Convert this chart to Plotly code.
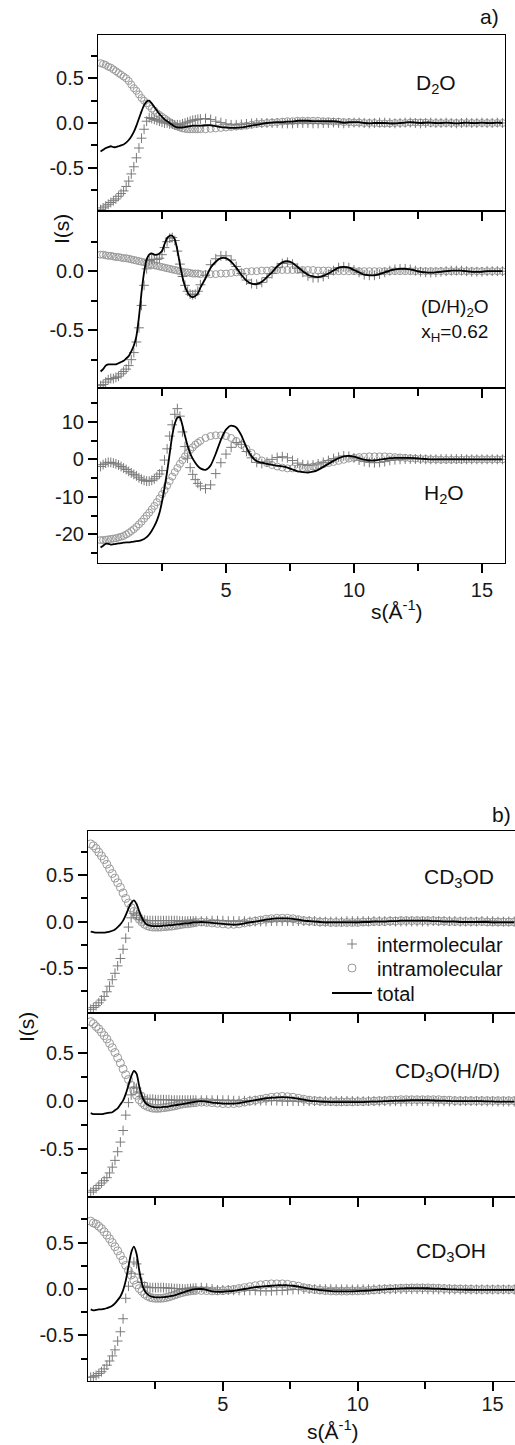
import plotly.graph_objects as go

# ---------------- data ----------------
s_values = [
    0.1, 0.2, 0.3, 0.4, 0.5, 0.6, 0.7, 0.8, 0.9, 1.0,
    1.1, 1.2, 1.3, 1.4, 1.5, 1.6, 1.7, 1.8, 1.9, 2.0,
    2.1, 2.2, 2.3, 2.4, 2.5, 2.6, 2.7, 2.8, 2.9, 3.0,
    3.1, 3.2, 3.3, 3.4, 3.5, 3.6, 3.7, 3.8, 3.9, 4.0,
    4.2, 4.4, 4.6, 4.8, 5.0, 5.2, 5.4, 5.6, 5.8, 6.0,
    6.2, 6.4, 6.6, 6.8, 7.0, 7.2, 7.4, 7.6, 7.8, 8.0,
    8.2, 8.4, 8.6, 8.8, 9.0, 9.2, 9.4, 9.6, 9.8, 10.0,
    10.2, 10.4, 10.6, 10.8, 11.0, 11.2, 11.4, 11.6, 11.8, 12.0,
    12.2, 12.4, 12.6, 12.8, 13.0, 13.2, 13.4, 13.6, 13.8, 14.0,
    14.2, 14.4, 14.6, 14.8, 15.0, 15.2, 15.4, 15.6, 15.8]

# ---- a) D2O ----
intra_d2o = [
    0.67, 0.66, 0.65, 0.63, 0.62, 0.60, 0.58, 0.56, 0.54, 0.52,
    0.50, 0.47, 0.43, 0.39, 0.36, 0.32, 0.28, 0.25, 0.22, 0.19,
    0.16, 0.14, 0.11, 0.09, 0.07, 0.05, 0.03, 0.01, -0.01, -0.03,
    -0.04, -0.05, -0.06, -0.065, -0.07, -0.07, -0.07, -0.07, -0.07, -0.07,
    -0.07, -0.065, -0.06, -0.055, -0.05, -0.045, -0.04, -0.035, -0.03, -0.02,
    -0.01, -0.005, 0.0, 0.005, 0.01, 0.015, 0.02, 0.02, 0.025, 0.025,
    0.025, 0.025, 0.025, 0.02, 0.02, 0.015, 0.015, 0.01, 0.01, 0.005,
    0.005, 0.0, 0.0, 0.0, -0.005, -0.005, -0.005, 0.0, 0.0, 0.0,
    0.005, 0.005, 0.005, 0.005, 0.0, 0.0, 0.0, 0.0, 0.0, 0.0,
    0.0, 0.0, 0.0, 0.0, 0.0, 0.0, 0.0, 0.0, 0.0]
inter_d2o = [
    -0.97, -0.95, -0.93, -0.91, -0.89, -0.87, -0.85, -0.82, -0.79, -0.76,
    -0.71, -0.65, -0.57, -0.49, -0.39, -0.28, -0.17, -0.07, 0.02, 0.06,
    0.05, 0.04, 0.03, 0.02, 0.01, 0.0, 0.0, -0.01, -0.01, -0.02,
    -0.02, -0.02, -0.01, 0.0, 0.01, 0.02, 0.03, 0.035, 0.04, 0.045,
    0.05, 0.04, 0.02, 0.005, -0.01, -0.02, -0.02, -0.015, -0.01, -0.005,
    0.0, 0.0, 0.0, 0.0, 0.0, -0.005, -0.005, -0.005, 0.0, 0.0,
    0.0, -0.005, -0.005, 0.0, 0.0, 0.005, 0.0, -0.005, 0.0, 0.005,
    0.005, 0.0, -0.005, 0.0, 0.005, 0.005, 0.0, -0.005, 0.0, 0.005,
    0.005, 0.0, -0.005, 0.0, 0.005, 0.0, 0.0, 0.005, 0.0, -0.005,
    0.0, 0.005, 0.0, 0.0, 0.005, 0.0, 0.0, 0.005, 0.0]
total_d2o = [
    -0.32, -0.30, -0.28, -0.27, -0.26, -0.27, -0.27, -0.26, -0.25, -0.24,
    -0.22, -0.19, -0.15, -0.10, -0.03, 0.05, 0.13, 0.20, 0.24, 0.25,
    0.22, 0.18, 0.14, 0.10, 0.07, 0.04, 0.02, 0.0, -0.02, -0.04,
    -0.05, -0.05, -0.05, -0.045, -0.04, -0.035, -0.03, -0.03, -0.03, -0.03,
    -0.025, -0.025, -0.035, -0.045, -0.05, -0.055, -0.055, -0.05, -0.04, -0.03,
    -0.02, -0.01, 0.0, 0.005, 0.01, 0.01, 0.015, 0.015, 0.025, 0.025,
    0.025, 0.02, 0.02, 0.02, 0.02, 0.02, 0.015, 0.005, 0.01, 0.01,
    0.01, 0.0, -0.005, 0.0, 0.0, 0.0, -0.005, -0.005, 0.0, 0.005,
    0.01, 0.005, 0.0, 0.005, 0.005, 0.0, 0.0, 0.005, 0.0, -0.005,
    0.0, 0.005, 0.0, 0.0, 0.005, 0.0, 0.0, 0.005, 0.0]

# ---- a) (D/H)2O ----
intra_dh2o = [
    0.14, 0.14, 0.135, 0.13, 0.13, 0.125, 0.12, 0.12, 0.115, 0.11,
    0.11, 0.105, 0.10, 0.095, 0.09, 0.085, 0.08, 0.075, 0.07, 0.06,
    0.055, 0.05, 0.045, 0.04, 0.035, 0.03, 0.025, 0.02, 0.015, 0.01,
    0.005, 0.0, -0.005, -0.01, -0.01, -0.015, -0.02, -0.02, -0.02, -0.025,
    -0.025, -0.025, -0.025, -0.02, -0.02, -0.015, -0.01, -0.01, -0.005, 0.0,
    0.0, 0.005, 0.005, 0.01, 0.01, 0.01, 0.01, 0.01, 0.01, 0.01,
    0.01, 0.01, 0.005, 0.005, 0.005, 0.0, 0.0, 0.0, 0.0, 0.0,
    0.0, 0.0, 0.0, 0.0, 0.0, 0.0, 0.0, 0.0, 0.0, 0.0,
    0.0, 0.0, 0.0, 0.0, 0.0, 0.0, 0.0, 0.0, 0.0, 0.0,
    0.0, 0.0, 0.0, 0.0, 0.0, 0.0, 0.0, 0.0, 0.0]
inter_dh2o = [
    -0.97, -0.96, -0.94, -0.92, -0.91, -0.91, -0.90, -0.89, -0.87, -0.85,
    -0.83, -0.80, -0.75, -0.69, -0.60, -0.48, -0.29, -0.12, 0.02, 0.09,
    0.10, 0.10, 0.10, 0.11, 0.14, 0.20, 0.25, 0.28, 0.285, 0.26,
    0.17, 0.06, -0.045, -0.12, -0.17, -0.195, -0.20, -0.195, -0.17, -0.115,
    -0.035, 0.055, 0.105, 0.13, 0.13, 0.095, 0.04, -0.02, -0.075, -0.105,
    -0.11, -0.095, -0.055, -0.02, 0.03, 0.065, 0.075, 0.06, 0.025, -0.01,
    -0.04, -0.055, -0.055, -0.045, -0.025, 0.005, 0.03, 0.037, 0.03, 0.01,
    -0.01, -0.03, -0.035, -0.035, -0.025, -0.01, 0.005, 0.015, 0.02, 0.02,
    0.015, 0.005, -0.005, -0.01, -0.012, -0.01, -0.005, 0.0, 0.005, 0.005,
    0.005, 0.0, -0.005, -0.005, -0.005, 0.0, 0.0, 0.0, 0.0]
total_dh2o = [
    -0.85, -0.83, -0.80, -0.79, -0.79, -0.79, -0.79, -0.78, -0.77, -0.76,
    -0.74, -0.72, -0.68, -0.63, -0.55, -0.39, -0.18, -0.01, 0.10, 0.14,
    0.15, 0.14, 0.14, 0.15, 0.17, 0.23, 0.28, 0.30, 0.30, 0.27,
    0.18, 0.06, -0.05, -0.13, -0.18, -0.21, -0.22, -0.21, -0.19, -0.14,
    -0.06, 0.03, 0.08, 0.11, 0.11, 0.08, 0.03, -0.03, -0.08, -0.105,
    -0.11, -0.09, -0.05, -0.01, 0.04, 0.075, 0.085, 0.07, 0.035, 0.0,
    -0.03, -0.045, -0.05, -0.04, -0.02, 0.005, 0.03, 0.037, 0.03, 0.01,
    -0.01, -0.03, -0.035, -0.035, -0.025, -0.01, 0.005, 0.015, 0.02, 0.02,
    0.015, 0.005, -0.005, -0.01, -0.012, -0.01, -0.005, 0.0, 0.005, 0.005,
    0.005, 0.0, -0.005, -0.005, -0.005, 0.0, 0.0, 0.0, 0.0]

# ---- a) H2O ----
intra_h2o = [
    -21.5, -21.5, -21.4, -21.3, -21.2, -21.1, -21.0, -20.8, -20.6, -20.4,
    -20.0, -19.6, -19.1, -18.6, -18.0, -17.3, -16.6, -15.8, -15.0, -14.2,
    -13.3, -12.4, -11.4, -10.4, -9.3, -8.2, -7.0, -5.8, -4.6, -3.4,
    -2.3, -1.2, -0.2, 0.8, 1.7, 2.5, 3.2, 3.9, 4.4, 4.9,
    5.7, 6.2, 6.4, 6.4, 6.2, 5.7, 4.9, 3.9, 2.8, 1.7,
    0.6, -0.3, -1.0, -1.5, -1.9, -2.2, -2.4, -2.4, -2.4, -2.3,
    -2.1, -1.9, -1.6, -1.3, -1.0, -0.7, -0.4, -0.1, 0.2, 0.4,
    0.6, 0.7, 0.8, 0.8, 0.8, 0.8, 0.7, 0.6, 0.5, 0.4,
    0.3, 0.2, 0.1, 0.1, 0.0, 0.0, -0.1, -0.1, -0.1, -0.1,
    -0.1, 0.0, 0.0, 0.0, 0.0, 0.0, 0.0, 0.0, 0.0]
inter_h2o = [
    -1.9, -1.4, -1.0, -0.8, -0.8, -1.0, -1.2, -1.5, -1.9, -2.3,
    -2.7, -3.2, -3.6, -4.0, -4.4, -4.9, -5.3, -5.6, -5.8, -5.8,
    -5.6, -5.2, -4.6, -3.9, -3.0, -0.2, 2.8, 6.2, 9.2, 12.0,
    13.5, 11.5, 7.3, 3.4, 0.3, -2.2, -4.0, -5.4, -6.4, -7.1,
    -7.8, -6.8, -3.8, -0.9, 1.4, 3.2, 4.5, 4.0, 2.1, 0.4,
    -0.8, -1.1, -0.7, 0.0, 0.5, 0.7, 0.4, -0.3, -1.0, -1.4,
    -1.6, -1.5, -1.2, -0.8, -0.3, 0.2, 0.6, 0.9, 0.8, 0.4,
    -0.2, -0.6, -0.8, -0.9, -0.8, -0.6, -0.3, -0.1, 0.0, 0.1,
    0.1, 0.1, 0.1, 0.0, 0.0, 0.0, 0.1, 0.1, 0.1, 0.1,
    0.1, 0.0, 0.0, 0.0, 0.0, 0.0, 0.0, 0.0, 0.0]
total_h2o = [
    -23.5, -23.0, -22.5, -22.5, -22.7, -22.6, -22.5, -22.4, -22.3, -22.2,
    -22.1, -22.1, -22.0, -21.9, -21.8, -21.7, -21.5, -21.2, -20.7, -20.0,
    -19.0, -17.8, -16.3, -14.3, -11.3, -7.5, -3.3, 1.5, 6.3, 9.5,
    11.1, 11.2, 9.0, 6.2, 3.6, 1.6, 0.2, -0.9, -1.8, -2.4,
    -2.8, -1.6, 1.5, 5.2, 7.9, 9.0, 8.5, 6.4, 3.2, 0.8,
    -0.5, -0.9, -1.2, -1.5, -1.7, -1.9, -2.2, -2.7, -3.2, -3.4,
    -3.5, -3.3, -2.8, -2.0, -1.2, -0.4, 0.3, 0.8, 0.9, 0.7,
    0.3, -0.1, -0.3, -0.3, -0.1, 0.1, 0.3, 0.4, 0.4, 0.4,
    0.4, 0.3, 0.2, 0.1, 0.0, 0.0, 0.0, 0.0, 0.0, 0.0,
    0.0, 0.0, 0.0, 0.0, 0.0, 0.0, 0.0, 0.0, 0.0]

# ---- b) CD3OD ----
intra_cd3od = [
    0.84, 0.82, 0.79, 0.75, 0.71, 0.67, 0.62, 0.57, 0.52, 0.47,
    0.42, 0.37, 0.31, 0.25, 0.20, 0.15, 0.11, 0.06, 0.025, -0.005,
    -0.03, -0.045, -0.055, -0.06, -0.06, -0.06, -0.06, -0.055, -0.055, -0.05,
    -0.05, -0.045, -0.04, -0.035, -0.03, -0.025, -0.025, -0.02, -0.015, -0.01,
    -0.005, -0.01, -0.015, -0.02, -0.025, -0.03, -0.03, -0.025, -0.015, -0.005,
    0.005, 0.015, 0.025, 0.03, 0.035, 0.035, 0.035, 0.03, 0.02, 0.01,
    0.005, 0.0, -0.005, -0.005, -0.01, -0.01, -0.01, -0.01, -0.01, -0.01,
    -0.005, -0.005, 0.0, 0.0, 0.0, 0.005, 0.005, 0.01, 0.01, 0.01,
    0.01, 0.01, 0.01, 0.01, 0.005, 0.005, 0.0, 0.0, 0.0, 0.0,
    0.0, 0.0, 0.0, -0.005, -0.005, -0.005, -0.005, -0.005, -0.005]
inter_cd3od = [
    -0.95, -0.93, -0.91, -0.88, -0.85, -0.81, -0.76, -0.70, -0.63, -0.56,
    -0.48, -0.40, -0.30, -0.18, -0.06, 0.04, 0.09, 0.07, 0.04, 0.02,
    0.015, 0.01, 0.01, 0.01, 0.01, 0.01, 0.01, 0.01, 0.01, 0.01,
    0.01, 0.01, 0.01, 0.005, 0.005, 0.005, 0.005, 0.005, 0.005, 0.005,
    0.005, 0.005, 0.01, 0.01, 0.01, 0.005, 0.005, 0.005, 0.005, 0.0,
    0.0, 0.0, 0.0, 0.005, 0.005, 0.005, 0.005, 0.005, 0.005, 0.005,
    0.005, 0.005, 0.0, 0.0, 0.0, 0.0, 0.0, 0.005, 0.005, 0.005,
    0.005, 0.005, 0.005, 0.005, 0.005, 0.005, 0.0, 0.0, 0.0, 0.0,
    0.0, 0.0, 0.0, 0.005, 0.005, 0.005, 0.005, 0.005, 0.0, 0.0,
    0.0, 0.0, 0.005, 0.005, 0.005, 0.0, 0.0, 0.0, 0.0]
total_cd3od = [
    -0.11, -0.115, -0.12, -0.12, -0.12, -0.12, -0.115, -0.11, -0.10, -0.085,
    -0.06, -0.03, 0.01, 0.07, 0.14, 0.20, 0.23, 0.19, 0.11, 0.04,
    -0.01, -0.035, -0.045, -0.05, -0.05, -0.05, -0.05, -0.045, -0.045, -0.04,
    -0.04, -0.035, -0.03, -0.03, -0.025, -0.02, -0.02, -0.015, -0.01, -0.01,
    -0.005, -0.01, -0.015, -0.02, -0.025, -0.03, -0.035, -0.03, -0.02, -0.01,
    0.0, 0.01, 0.02, 0.03, 0.035, 0.035, 0.035, 0.03, 0.02, 0.01,
    0.005, 0.0, -0.005, -0.01, -0.01, -0.01, -0.01, -0.01, -0.01, -0.01,
    -0.005, -0.005, 0.0, 0.0, 0.0, 0.005, 0.005, 0.01, 0.01, 0.01,
    0.01, 0.01, 0.01, 0.005, 0.005, 0.0, 0.0, 0.0, -0.005, -0.005,
    -0.005, -0.005, -0.005, -0.005, -0.01, -0.01, -0.01, -0.01, -0.01]

# ---- b) CD3O(H/D) ----
intra_cd3ohd = [
    0.82, 0.80, 0.77, 0.745, 0.71, 0.675, 0.64, 0.595, 0.55, 0.50,
    0.445, 0.39, 0.33, 0.27, 0.22, 0.16, 0.105, 0.055, 0.01, -0.02,
    -0.045, -0.06, -0.07, -0.078, -0.08, -0.08, -0.077, -0.073, -0.07, -0.065,
    -0.06, -0.055, -0.048, -0.04, -0.035, -0.03, -0.028, -0.025, -0.022, -0.02,
    -0.015, -0.017, -0.02, -0.025, -0.03, -0.03, -0.03, -0.025, -0.015, -0.005,
    0.005, 0.015, 0.025, 0.035, 0.04, 0.045, 0.04, 0.035, 0.025, 0.015,
    0.005, 0.0, -0.005, -0.01, -0.01, -0.012, -0.012, -0.012, -0.012, -0.01,
    -0.01, -0.008, -0.005, 0.0, 0.0, 0.005, 0.005, 0.01, 0.01, 0.01,
    0.01, 0.01, 0.01, 0.01, 0.01, 0.005, 0.005, 0.0, 0.0, 0.0,
    0.0, 0.0, 0.0, 0.0, 0.0, 0.0, 0.0, 0.0, 0.0]
inter_cd3ohd = [
    -0.95, -0.93, -0.91, -0.88, -0.855, -0.83, -0.80, -0.75, -0.69, -0.62,
    -0.53, -0.43, -0.31, -0.15, -0.02, 0.06, 0.14, 0.13, 0.08, 0.04,
    0.025, 0.015, 0.015, 0.015, 0.01, 0.01, 0.01, 0.01, 0.01, 0.01,
    0.005, 0.005, 0.005, 0.005, 0.005, 0.005, 0.005, 0.005, 0.005, 0.005,
    0.005, 0.005, 0.005, 0.005, 0.005, 0.005, 0.0, 0.0, 0.0, 0.0,
    0.0, 0.0, 0.0, 0.0, 0.0, -0.005, -0.005, -0.005, -0.005, -0.005,
    -0.005, -0.005, -0.005, -0.002, -0.005, -0.003, -0.003, -0.003, -0.003, -0.005,
    -0.005, -0.004, -0.005, -0.008, -0.005, -0.008, -0.005, -0.01, -0.007, -0.005,
    -0.005, -0.005, -0.005, -0.007, -0.01, -0.005, -0.008, -0.005, -0.005, -0.005,
    -0.005, -0.005, -0.005, -0.008, -0.008, -0.01, -0.01, -0.01, -0.01]
total_cd3ohd = [
    -0.13, -0.14, -0.14, -0.14, -0.14, -0.135, -0.13, -0.125, -0.12, -0.10,
    -0.08, -0.04, 0.0, 0.07, 0.16, 0.25, 0.31, 0.28, 0.15, 0.05,
    -0.01, -0.04, -0.055, -0.065, -0.07, -0.07, -0.07, -0.065, -0.065, -0.06,
    -0.055, -0.05, -0.045, -0.04, -0.035, -0.03, -0.025, -0.02, -0.015, -0.01,
    -0.005, -0.01, -0.02, -0.025, -0.03, -0.03, -0.03, -0.025, -0.015, -0.005,
    0.005, 0.015, 0.025, 0.03, 0.035, 0.037, 0.035, 0.03, 0.02, 0.01,
    0.0, -0.005, -0.01, -0.012, -0.015, -0.015, -0.015, -0.015, -0.015, -0.015,
    -0.015, -0.012, -0.01, -0.008, -0.005, -0.003, 0.0, 0.0, 0.003, 0.005,
    0.005, 0.005, 0.005, 0.003, 0.0, 0.0, -0.003, -0.005, -0.005, -0.005,
    -0.005, -0.005, -0.005, -0.008, -0.008, -0.01, -0.01, -0.01, -0.01]

# ---- b) CD3OH ----
intra_cd3oh = [
    0.73, 0.71, 0.70, 0.675, 0.65, 0.615, 0.58, 0.54, 0.50, 0.455,
    0.41, 0.36, 0.31, 0.255, 0.20, 0.15, 0.095, 0.045, 0.005, -0.025,
    -0.055, -0.075, -0.09, -0.097, -0.10, -0.10, -0.10, -0.097, -0.092, -0.085,
    -0.075, -0.065, -0.055, -0.045, -0.038, -0.03, -0.025, -0.02, -0.017, -0.015,
    -0.015, -0.017, -0.02, -0.02, -0.018, -0.012, -0.005, 0.005, 0.015, 0.025,
    0.035, 0.045, 0.05, 0.055, 0.055, 0.055, 0.05, 0.04, 0.03, 0.015,
    0.005, -0.005, -0.012, -0.017, -0.02, -0.022, -0.022, -0.022, -0.02, -0.02,
    -0.018, -0.015, -0.01, -0.005, 0.0, 0.003, 0.005, 0.008, 0.01, 0.012,
    0.012, 0.012, 0.012, 0.01, 0.008, 0.005, 0.003, 0.0, 0.0, -0.003,
    -0.003, -0.005, -0.005, -0.005, -0.005, -0.005, -0.005, -0.005, -0.005]
inter_cd3oh = [
    -0.95, -0.945, -0.93, -0.91, -0.89, -0.86, -0.82, -0.775, -0.72, -0.655,
    -0.56, -0.46, -0.32, -0.10, 0.03, 0.17, 0.29, 0.27, 0.16, 0.07,
    0.03, 0.02, 0.015, 0.015, 0.015, 0.015, 0.015, 0.015, 0.012, 0.01,
    0.008, 0.005, 0.005, 0.003, 0.0, 0.0, 0.003, 0.005, 0.008, 0.01,
    0.015, 0.01, 0.0, -0.01, -0.01, -0.01, -0.015, -0.015, -0.015, -0.015,
    -0.015, -0.02, -0.02, -0.02, -0.015, -0.015, -0.01, -0.005, -0.005, 0.0,
    0.0, 0.0, 0.0, 0.0, 0.0, -0.003, -0.003, -0.003, -0.005, -0.002,
    -0.002, -0.002, -0.002, -0.003, -0.003, -0.003, -0.002, -0.002, -0.002, -0.002,
    -0.002, -0.002, -0.004, -0.005, -0.005, -0.005, -0.006, -0.005, -0.007, -0.005,
    -0.005, -0.005, -0.005, -0.005, -0.005, -0.005, -0.005, -0.005, -0.005]
total_cd3oh = [
    -0.22, -0.23, -0.225, -0.22, -0.22, -0.215, -0.205, -0.195, -0.18, -0.155,
    -0.12, -0.08, -0.015, 0.09, 0.24, 0.39, 0.455, 0.38, 0.20, 0.06,
    -0.02, -0.055, -0.075, -0.085, -0.09, -0.09, -0.09, -0.088, -0.085, -0.08,
    -0.075, -0.068, -0.06, -0.05, -0.04, -0.03, -0.02, -0.012, -0.005, -0.002,
    0.0, -0.01, -0.025, -0.03, -0.03, -0.025, -0.02, -0.01, 0.0, 0.01,
    0.02, 0.025, 0.03, 0.035, 0.04, 0.04, 0.04, 0.035, 0.025, 0.015,
    0.005, -0.005, -0.012, -0.018, -0.022, -0.025, -0.025, -0.025, -0.025, -0.022,
    -0.02, -0.017, -0.012, -0.008, -0.003, 0.0, 0.003, 0.006, 0.008, 0.01,
    0.01, 0.01, 0.008, 0.005, 0.003, 0.0, -0.003, -0.005, -0.007, -0.008,
    -0.008, -0.01, -0.01, -0.01, -0.01, -0.01, -0.01, -0.01, -0.01]

x_tickvals = [5, 10, 15]
x_ticktext = ["5", "10", "15"]
x_minor = [2.5, 7.5, 12.5]

# ---------------- layout helpers ----------------
W, H = 515, 1445
FONT = "Liberation Sans, Arial, sans-serif"


def fx(p):
    return p / W


def fy(p):
    return 1 - p / H


panels = [
    dict(intra=intra_d2o, inter=inter_d2o, total=total_d2o, top=35, bot=211,
         xl=98, xr=505, xrange=[0, 15.9], yrange=[-0.985, 0.985],
         ytv=[-0.5, 0.0, 0.5], ytt=["-0.5", "0.0", "0.5"], ymin=[-0.75, -0.25, 0.25, 0.75],
         xlabels=False, msize=7, standoff=0),
    dict(intra=intra_dh2o, inter=inter_dh2o, total=total_dh2o, top=211, bot=388,
         xl=98, xr=505, xrange=[0, 15.9], yrange=[-0.99, 0.51],
         ytv=[-0.5, 0.0], ytt=["-0.5", "0.0"], ymin=[-0.75, -0.25, 0.25],
         xlabels=False, msize=7, standoff=0),
    dict(intra=intra_h2o, inter=inter_h2o, total=total_h2o, top=388, bot=563,
         xl=98, xr=505, xrange=[0, 15.9], yrange=[-27.6, 19.0],
         ytv=[-20, -10, 0, 10], ytt=["-20", "-10", "0", "10"], ymin=[-25, -15, -5, 5, 15],
         xlabels=True, msize=7, standoff=0),
    dict(intra=intra_cd3od, inter=inter_cd3od, total=total_cd3od, top=831, bot=1013,
         xl=88, xr=515, xrange=[0, 15.83], yrange=[-0.99, 0.98],
         ytv=[-0.5, 0.0, 0.5], ytt=["-0.5", "0.0", "0.5"], ymin=[-0.75, -0.25, 0.25, 0.75],
         xlabels=False, msize=8, standoff=0),
    dict(intra=intra_cd3ohd, inter=inter_cd3ohd, total=total_cd3ohd, top=1013, bot=1197,
         xl=88, xr=515, xrange=[0, 15.83], yrange=[-1.0, 0.91],
         ytv=[-0.5, 0.0, 0.5], ytt=["-0.5", "0.0", "0.5"], ymin=[-0.75, -0.25, 0.25, 0.75],
         xlabels=False, msize=8, standoff=0),
    dict(intra=intra_cd3oh, inter=inter_cd3oh, total=total_cd3oh, top=1197, bot=1381,
         xl=88, xr=515, xrange=[0, 15.83], yrange=[-0.99, 0.99],
         ytv=[-0.5, 0.0, 0.5], ytt=["-0.5", "0.0", "0.5"], ymin=[-0.75, -0.25, 0.25, 0.75],
         xlabels=True, msize=8, standoff=-4),
]

fig = go.Figure()
layout = {}
tickfont = dict(family=FONT, size=20, color="#1a1a1a")
LW = 1.2

for i, p in enumerate(panels):
    n = i + 1
    xa = "x" if n == 1 else f"x{n}"
    ya = "y" if n == 1 else f"y{n}"
    leg = (n == 4)
    fig.add_trace(go.Scatter(
        x=s_values, y=p["intra"], mode="markers", name="intramolecular",
        marker=dict(symbol="circle-open", size=p["msize"], color="#9a9a9a",
                    line=dict(width=1)),
        xaxis=xa, yaxis=ya, showlegend=leg, legend="legend2"))
    fig.add_trace(go.Scatter(
        x=s_values, y=p["inter"], mode="markers", name="intermolecular",
        marker=dict(symbol="cross-thin-open", size=7, color="#7a7a7a",
                    line=dict(width=1, color="#7a7a7a")),
        xaxis=xa, yaxis=ya, showlegend=leg, legend="legend"))
    fig.add_trace(go.Scatter(
        x=s_values, y=p["total"], mode="lines", name="total",
        line=dict(color="black", width=1.8, shape="spline", smoothing=0.6),
        xaxis=xa, yaxis=ya, showlegend=leg, legend="legend3"))

    layout["xaxis" if n == 1 else f"xaxis{n}"] = dict(
        domain=[fx(p["xl"]), fx(p["xr"])], range=p["xrange"], anchor=ya,
        tickmode="array", tickvals=x_tickvals, ticktext=x_ticktext,
        showticklabels=p["xlabels"], ticks="outside", ticklen=9, tickwidth=1.5,
        tickcolor="black", ticklabelstandoff=p["standoff"],
        minor=dict(tickmode="array", tickvals=x_minor, ticks="outside",
                   ticklen=7, tickwidth=1.5, tickcolor="black"),
        showline=True, linecolor="black", linewidth=LW, mirror=True,
        showgrid=False, zeroline=False, tickfont=tickfont, automargin=False)
    layout["yaxis" if n == 1 else f"yaxis{n}"] = dict(
        domain=[fy(p["bot"]), fy(p["top"])], range=p["yrange"], anchor=xa,
        tickmode="array", tickvals=p["ytv"], ticktext=p["ytt"],
        ticks="outside", ticklen=9, tickwidth=1.5, tickcolor="black",
        minor=dict(tickmode="array", tickvals=p["ymin"], ticks="outside",
                   ticklen=6, tickwidth=1.5, tickcolor="black"),
        showline=True, linecolor="black", linewidth=LW, mirror=True,
        showgrid=False, zeroline=False, tickfont=tickfont, automargin=False)

annots = [
    ("a)", 489, 17, 0, 21),
    ("D<sub>2</sub>O", 436, 84, 0, 21),
    ("(D/H)<sub>2</sub>O<br>x<sub>H</sub>=0.62", 455, 320, 0, 19),
    ("H<sub>2</sub>O", 444, 494, 0, 21),
    ("I(s)", 62, 229, -90, 21),
    ("s(Å<sup>-1</sup>)", 397, 610, 0, 21),
    ("b)", 501, 814, 0, 21),
    ("CD<sub>3</sub>OD", 459, 878, 0, 21),
    ("CD<sub>3</sub>O(H/D)", 447, 1072, 0, 21),
    ("CD<sub>3</sub>OH", 451, 1252, 0, 21),
    ("I(s)", 26, 1027, -90, 21),
    ("s(Å<sup>-1</sup>)", 333, 1430, 0, 21),
]
annotations = [dict(text=t, x=fx(xp), y=fy(yp), xref="paper", yref="paper",
                    xanchor="center", yanchor="middle", showarrow=False,
                    textangle=a, font=dict(family=FONT, size=fs, color="#111"))
               for t, xp, yp, a, fs in annots]

legfont = dict(family=FONT, size=20, color="#111")
legcommon = dict(xanchor="left", yanchor="middle", bgcolor="rgba(0,0,0,0)",
                 font=legfont, itemwidth=40, borderwidth=0)

fig.update_layout(
    **layout,
    width=W, height=H,
    margin=dict(l=0, r=0, t=0, b=0),
    paper_bgcolor="white", plot_bgcolor="white",
    annotations=annotations,
    showlegend=True,
    legend=dict(x=fx(327), y=fy(944), **legcommon),
    legend2=dict(x=fx(327), y=fy(968), **legcommon),
    legend3=dict(x=fx(327), y=fy(993), **legcommon),
)

fig.write_html("out.html", config={"displayModeBar": False},
               post_script="document.body.style.margin='0';")
